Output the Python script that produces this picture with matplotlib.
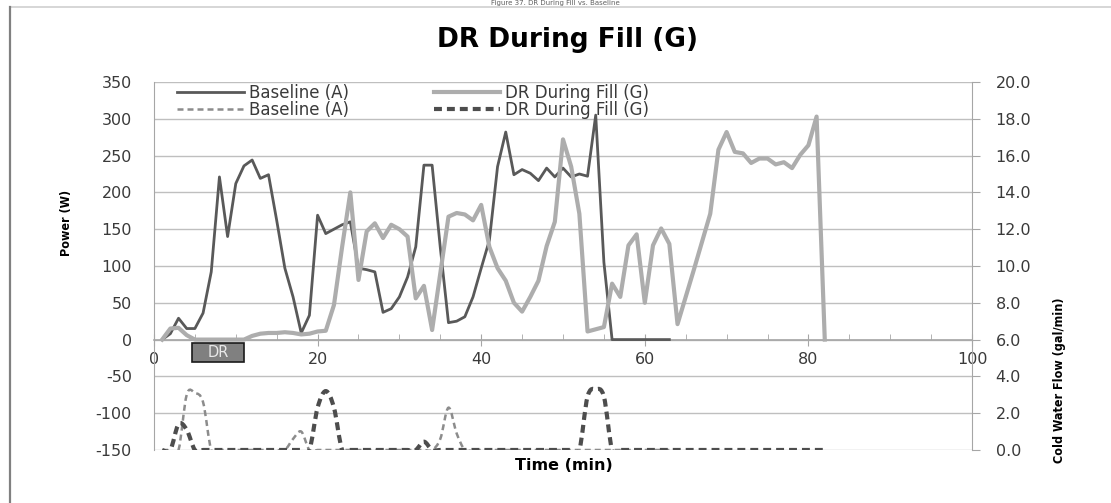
import numpy as np
import matplotlib
matplotlib.use("Agg")
import matplotlib.pyplot as plt
from matplotlib.lines import Line2D
from matplotlib.path import Path
from matplotlib.patches import PathPatch, Rectangle
from matplotlib.ticker import MultipleLocator, FormatStrFormatter

plt.rcParams["axes.unicode_minus"] = False

# time axis (minutes)
t_base = list(range(1, 64))
t_dr = list(range(1, 83))

# power (W)
power_base = [0, 8, 29, 15, 15, 36, 92, 221, 140, 212,
              236, 244, 219, 224, 162, 97, 58, 9, 33, 169,
              144, 150, 156, 160, 97, 95, 92, 37, 42, 58,
              85, 126, 237, 237, 125, 23, 25, 31, 58, 97,
              135, 235, 282, 224, 231, 226, 216, 233, 221, 233,
              221, 225, 222, 305, 105, 0, 0, 0, 0, 0,
              0, 0, 0]
power_dr = [0, 15, 16, 6, 0, 0, 0, 0, 0, 0,
            0, 5, 8, 9, 9, 10, 9, 7, 8, 11,
            12, 47, 126, 200, 81, 147, 158, 138, 156, 150,
            140, 56, 73, 13, 90, 167, 172, 170, 162, 183,
            126, 97, 80, 50, 38, 58, 80, 127, 160, 272,
            235, 171, 11, 14, 17, 76, 58, 128, 143, 50,
            128, 151, 130, 21, 58, 95, 133, 171, 258, 282,
            255, 253, 240, 246, 246, 238, 241, 233, 251, 264,
            303, 0]

# cold water flow (gal/min)
flow_base = [0, 0, 0, 3.0, 3.1, 2.6, 0, 0, 0, 0,
             0, 0, 0, 0, 0, 0, 0.6, 1.0, 0, 0,
             0, 0, 0, 0, 0, 0, 0, 0, 0, 0,
             0, 0, 0, 0, 0.6, 2.3, 0.9, 0, 0, 0,
             0, 0, 0, 0, 0, 0, 0, 0, 0, 0,
             0, 0, 0, 0, 0, 0, 0, 0, 0, 0,
             0, 0, 0]
flow_dr = [0, 0, 1.4, 1.1, 0, 0, 0, 0, 0, 0,
           0, 0, 0, 0, 0, 0, 0, 0, 0, 2.3,
           3.2, 2.3, 0, 0, 0, 0, 0, 0, 0, 0,
           0, 0, 0.45, 0, 0, 0, 0, 0, 0, 0,
           0, 0, 0, 0, 0, 0, 0, 0, 0, 0,
           0, 0, 2.9, 3.3, 2.9, 0, 0, 0, 0, 0,
           0, 0, 0, 0, 0, 0, 0, 0, 0, 0,
           0, 0, 0, 0, 0, 0, 0, 0, 0, 0,
           0, 0]

dr_start, dr_end = 4.7, 11.0  # DR event marker

dark = "#595959"
light = "#ADADAD"
grid_c = "#BFBFBF"
axis_c = "#A6A6A6"
txt_c = "#3A3A3A"


def smooth_path(xs, ys):
    # excel-style smoothed line (bezier through the points)
    pts = np.column_stack([xs, ys]).astype(float)
    n = len(pts)
    verts = [pts[0]]
    codes = [Path.MOVETO]
    for i in range(n - 1):
        p0 = pts[max(i - 1, 0)]
        p1 = pts[i]
        p2 = pts[i + 1]
        p3 = pts[min(i + 2, n - 1)]
        verts += [p1 + (p2 - p0) / 6, p2 - (p3 - p1) / 6, p2]
        codes += [Path.CURVE4] * 3
    return Path(verts, codes)


fig = plt.figure(figsize=(11.11, 5.03), dpi=100)
ax = fig.add_axes([0.1386, 0.1054, 0.7363, 0.7316])
ax2 = ax.twinx()

ax.set_xlim(0, 100)
ax.set_ylim(-150, 350)
ax2.set_ylim(0, 20)

ax.plot(t_base, power_base, color=dark, lw=2.0, zorder=3)
ax.plot(t_dr, power_dr, color=light, lw=3.0, zorder=4)

ax2.add_patch(PathPatch(smooth_path(t_base, flow_base), fill=False,
                        ec="#8C8C8C", lw=1.8, linestyle=(0, (2.4, 1.6))))
ax2.add_patch(PathPatch(smooth_path(t_dr, flow_dr), fill=False,
                        ec="#4D4D4D", lw=3.0, linestyle=(0, (1.9, 1.2))))

# axes styling
for s in ["top", "right"]:
    ax.spines[s].set_visible(False)
ax.spines["left"].set_color(axis_c)
ax.spines["bottom"].set_position(("data", 0))
ax.spines["bottom"].set_color(axis_c)
ax.spines["bottom"].set_linewidth(1.2)
for s in ["top", "left", "bottom"]:
    ax2.spines[s].set_visible(False)
ax2.spines["right"].set_color(axis_c)

ax.set_yticks(range(-150, 351, 50))
ax.yaxis.grid(True, color=grid_c, lw=1.0)
ax.set_axisbelow(True)
ax.xaxis.set_major_locator(MultipleLocator(20))
ax.xaxis.set_minor_locator(MultipleLocator(5))
ax.tick_params(axis="x", which="major", direction="inout", length=8,
               color=axis_c, labelsize=11.5, labelcolor=txt_c, pad=5)
ax.tick_params(axis="x", which="minor", direction="in", length=4, color=axis_c)
ax.tick_params(axis="y", length=0, labelsize=11.5, labelcolor=txt_c, pad=16)

ax2.set_yticks(np.arange(0, 20.1, 2))
ax2.yaxis.set_major_formatter(FormatStrFormatter("%.1f"))
ax2.tick_params(axis="y", direction="out", length=6, color=axis_c,
                labelsize=11.5, labelcolor=txt_c, pad=11)

# DR marker box
ax.add_patch(Rectangle((dr_start, -30.4), dr_end - dr_start, 25.8,
                       fc="#808080", ec="#1A1A1A", lw=1.2, zorder=6,
                       clip_on=False))
ax.text((dr_start + dr_end) / 2, -17.5, "DR", ha="center", va="center",
        fontsize=10.5, color="#E8E8E8", zorder=7)

# legend
handles = [
    Line2D([], [], color=dark, lw=2.0),
    Line2D([], [], color="#8C8C8C", lw=1.8, ls=(0, (2.4, 1.6))),
    Line2D([], [], color=light, lw=3.0),
    Line2D([], [], color="#4D4D4D", lw=3.0, ls=(0, (1.9, 1.2))),
]
labels = ["Baseline (A)", "Baseline (A)", "DR During Fill (G)", "DR During Fill (G)"]
leg = fig.legend(handles, labels, ncol=2, loc="upper left",
                 bbox_to_anchor=(177 / 1111, 1 - 84 / 503),
                 bbox_transform=fig.transFigure, frameon=False,
                 borderpad=0, borderaxespad=0, handlelength=4.0,
                 handletextpad=0.3, columnspacing=5.1, labelspacing=-0.05,
                 prop={"size": 12})
for tx in leg.get_texts():
    tx.set_color(txt_c)

# titles and labels
fig.text(0.511, 0.920, "DR During Fill (G)", ha="center", va="center",
         fontsize=19, fontweight="bold")
fig.text(555 / 1111, 1.0, "Figure 37. DR During Fill vs. Baseline",
         ha="center", va="top", fontsize=5, color="#606060")
fig.text(0.0603, 0.5567, "Power (W)", rotation=90, ha="center", va="center",
         fontsize=9, fontweight="bold", fontstretch="condensed")
fig.text(0.954, 0.2445, "Cold Water Flow (gal/min)", rotation=90,
         ha="center", va="center", fontsize=9, fontweight="bold",
         fontstretch="condensed")
fig.text(0.5077, 0.0736, "Time (min)", ha="center", va="center",
         fontsize=11.5, fontweight="bold")

# chart border
fig.add_artist(Line2D([10 / 1111, 1], [1 - 7 / 503, 1 - 7 / 503],
                      transform=fig.transFigure, color="#D0D0D0", lw=1.2))
fig.add_artist(Line2D([10 / 1111, 10 / 1111], [0, 1 - 7 / 503],
                      transform=fig.transFigure, color="#808080", lw=1.6))

fig.savefig("out.png", dpi=100)
